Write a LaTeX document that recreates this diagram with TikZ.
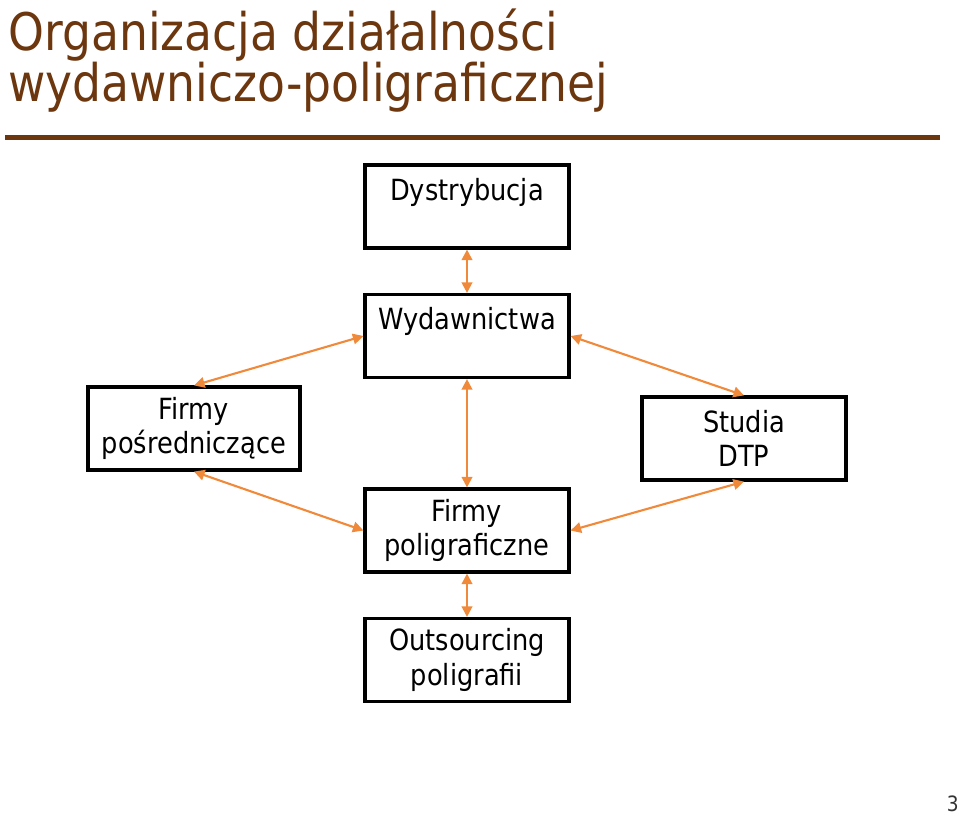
\documentclass[tikz,border=0pt]{standalone}
\usepackage{fontspec}
\setmainfont{DejaVu Sans}[FakeStretch=0.88]
\usepackage{xcolor}
\usetikzlibrary{positioning,calc,arrows.meta}
\definecolor{titlebrown}{RGB}{108,54,14}
\definecolor{arroworange}{RGB}{240,138,58}
\tikzset{
  box/.style={draw=black, line width=1.8pt, minimum width=4.08cm, minimum height=1.66cm, inner sep=0pt, align=center, font=\fontsize{16.6}{19.8}\selectfont},
  link/.style={draw=arroworange, line width=1.2pt, {Triangle[length=6pt,width=6pt]}-{Triangle[length=6pt,width=6pt]}},
  title/.style={text=titlebrown, anchor=base west, inner sep=0pt, font=\fontsize{29.5}{35}\selectfont}
}
\newcommand{\bnode}[4]{\node [box, #4] (#1) at (#2) {#3}}

\begin{document}
\begin{tikzpicture}[x=0.02cm, y=-0.02cm]
\useasboundingbox (0,0) rectangle (960,815);

\node [title] (T1) at (8,50) {Organizacja działalności};
\node [title] (T2) at (8,101) {wydawniczo-poligraficznej};
\coordinate (RL) at (5,137.5);
\coordinate (RR) at (940,137.5);
\draw [titlebrown, line width=2.8pt] (RL) -- (RR);

\bnode{DYS}{467,206.5}{Dystrybucja\\\mbox{}}{};
\bnode{WYD}{467,336}{Wydawnictwa\\\mbox{}}{};
\bnode{POS}{194,428.5}{Firmy\\pośredniczące}{minimum width=4.24cm};
\bnode{DTP}{744,438.5}{Studia\\DTP}{};
\bnode{POL}{467,530.5}{Firmy\\poligraficzne}{};
\bnode{OUT}{467,660}{Outsourcing\\poligrafii}{};

\draw [link] (DYS.south) -- (WYD.north);
\draw [link] (WYD.west) -- (POS.north);
\draw [link] (WYD.east) -- (DTP.north);
\draw [link] (WYD.south) -- (POL.north);
\draw [link] (POS.south) -- (POL.west);
\draw [link] (POL.east) -- (DTP.south);
\draw [link] (POL.south) -- (OUT.north);

\node [anchor=base east, inner sep=0pt, text=black!80, font=\fontsize{12}{14}\selectfont] (PG) at (959,811) {3};

\end{tikzpicture}
\end{document}
